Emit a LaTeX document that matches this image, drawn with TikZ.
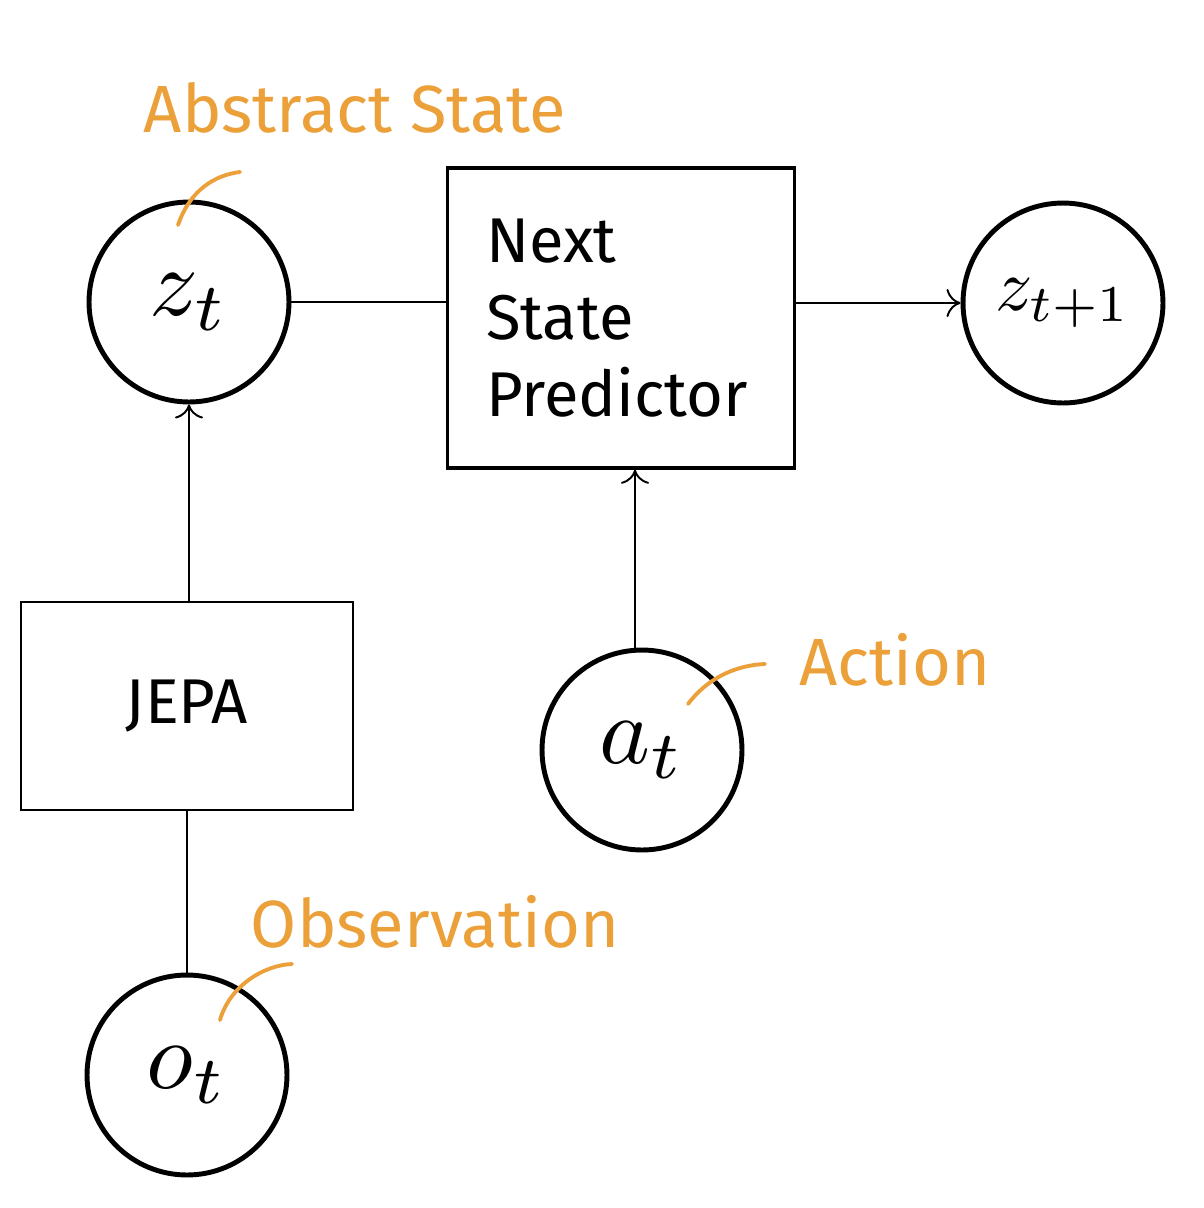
\documentclass[tikz,border=0pt]{standalone}
\usepackage{fontspec}
\setmainfont{Fira Sans}
\usetikzlibrary{positioning,arrows.meta}
\definecolor{labelorange}{HTML}{EBA03A}
\newcommand{\bigmath}[1]{\scalebox{5.5}{$#1$}}
\tikzset{
  state/.style={circle,draw,line width=2.8pt,minimum size=4cm,inner sep=0pt},
  block/.style={draw,line width=1.1pt,font=\fontsize{36}{44}\selectfont,align=left},
  note/.style={text=labelorange,font=\fontsize{38}{40}\selectfont},
  tick/.style={labelorange,line width=2.2pt,line cap=round},
  link/.style={line width=1.1pt},
  arr/.style={link,-{To[length=8pt,width=16pt,line width=1.1pt]}}
}
\begin{document}
\begin{tikzpicture}[x=0.02cm,y=-0.02cm]
\useasboundingbox (0,0) rectangle (1204,1208);
% states
\node[state] (zt) at (189,302) {\bigmath{z_t}};
\node[state] (zn) at (1063,303) {\scalebox{4.2}{$z_{t+1}$}};
\node[state] (at) at (642,750) {\bigmath{a_t}};
\node[state] (ot) at (187,1075) {\bigmath{o_t}};
% blocks
\node[block,minimum width=6.94cm,minimum height=6cm,line width=2pt,text width=5.4cm] (pred) at (621,318) {Next\\State\\Predictor};
\node[block,minimum width=6.64cm,minimum height=4.16cm] (jepa) at (187,706) {JEPA};
% labels
\node[note] (abs) at (355,108) {Abstract State};
\node[note] (act) at (895,660) {Action};
\node[note] (obs) at (435,922) {Observation};
\draw[tick] (178,225) .. controls (190,190) and (215,175) .. (240,172);
\draw[tick] (688,704) .. controls (710,675) and (740,665) .. (765,664);
\draw[tick] (220,1020) .. controls (230,985) and (265,965) .. (292,964);
% connectors
\draw[link] (zt) -- (zt -| pred.west);
\draw[arr] (pred.east |- zn) -- (zn);
\draw[arr] (at.north -| 635,0) -- (pred.south -| 635,0);
\draw[arr] (jepa.north -| zt) -- (zt);
\draw[link] (ot) -- (jepa.south -| ot);
\end{tikzpicture}
\end{document}
